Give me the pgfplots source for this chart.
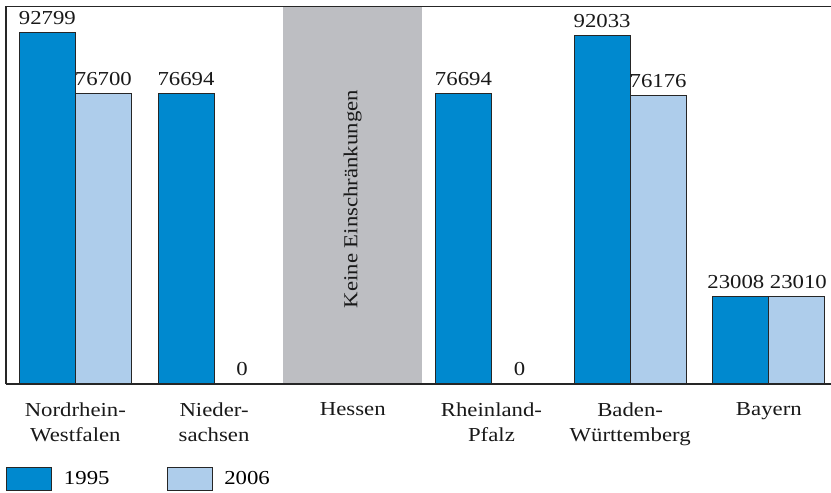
\documentclass[border=0pt]{standalone}
\usepackage{pgfplots}
\pgfplotsset{compat=1.18}
\usepackage{fontspec}
\setmainfont{Liberation Serif}[FakeStretch=1.15]
\definecolor{dblue}{RGB}{0,137,207}
\definecolor{lblue}{RGB}{174,205,235}
\definecolor{greyc}{RGB}{189,190,194}
\newcommand\ff{\fontsize{19.8}{25}\selectfont}
\begin{document}
\ff
\begin{tikzpicture}
\begin{axis}[
 at={(0,0)}, anchor=south west,
 width=825pt, height=378pt, scale only axis,
 xmin=-0.5, xmax=5.448, ymin=0, ymax=99760,
 axis x line*=bottom, axis y line*=left,
 axis line style={line width=1.5pt, black!85},
 axis on top,
 ytick=\empty,
 xtick={0,...,5},
 xticklabels={{Nordrhein-\\Westfalen},{Nieder-\\sachsen},{Hessen},{Rheinland-\\Pfalz},{Baden-\\Württemberg},{Bayern}},
 xticklabel style={align=center, yshift=-12pt, font=\ff, black!90},
 major tick length=0pt,
 ybar=0pt, bar width=56pt,
 nodes near coords,
 visualization depends on={x \as \xval},
 every node near coord/.append style={font=\ff, yshift=1pt, black!90},
 /pgf/number format/1000 sep={},
 /pgf/number format/assume math mode=true,
 legend columns=2,
 legend style={draw=none, fill=none, font=\ff, at={(0,-0.2196)}, anchor=north west, inner sep=0pt,
   /tikz/every odd column/.append style={column sep=10pt},
   /tikz/every even column/.append style={column sep=55pt}},
]
\fill[greyc] (axis cs:1.5,0) rectangle (axis cs:2.5,99760);
\node[rotate=90, font=\ff, black!90] at (axis cs:2,48800) {Keine Einschränkungen};
\addplot[fill=dblue, draw=black!85, line width=0.8pt,
  every node near coord/.append style={xshift={-5pt*(\xval>4.5)}},
  legend image code/.code={\draw[fill=dblue, draw=black!85, line width=0.8pt] (0pt,-11.5pt) rectangle (45pt,11.5pt);}]
  coordinates {(0,92799) (1,76694) (3,76694) (4,92033) (5,23008)};
\addplot[fill=lblue, draw=black!85, line width=0.8pt,
  every node near coord/.append style={xshift={1.5pt*(\xval>4.5)}},
  legend image code/.code={\draw[fill=lblue, draw=black!85, line width=0.8pt] (0pt,-11.5pt) rectangle (45pt,11.5pt);}]
  coordinates {(0,76700) (1,0) (3,0) (4,76176) (5,23010)};
\legend{1995,2006}
\draw[line width=1.5pt, black!85] (rel axis cs:0,1) -- (rel axis cs:1,1);
\pgfplotsinvokeforeach{-0.5,0.5,1.5,2.5,3.5,4.5}{\draw[line width=1.2pt, black!85] (axis cs:#1,0) -- ++(0,-14pt);}
\end{axis}
\pgfresetboundingbox
\path[use as bounding box] (-6pt,-109pt) rectangle (825pt,384pt);
\end{tikzpicture}
\end{document}
